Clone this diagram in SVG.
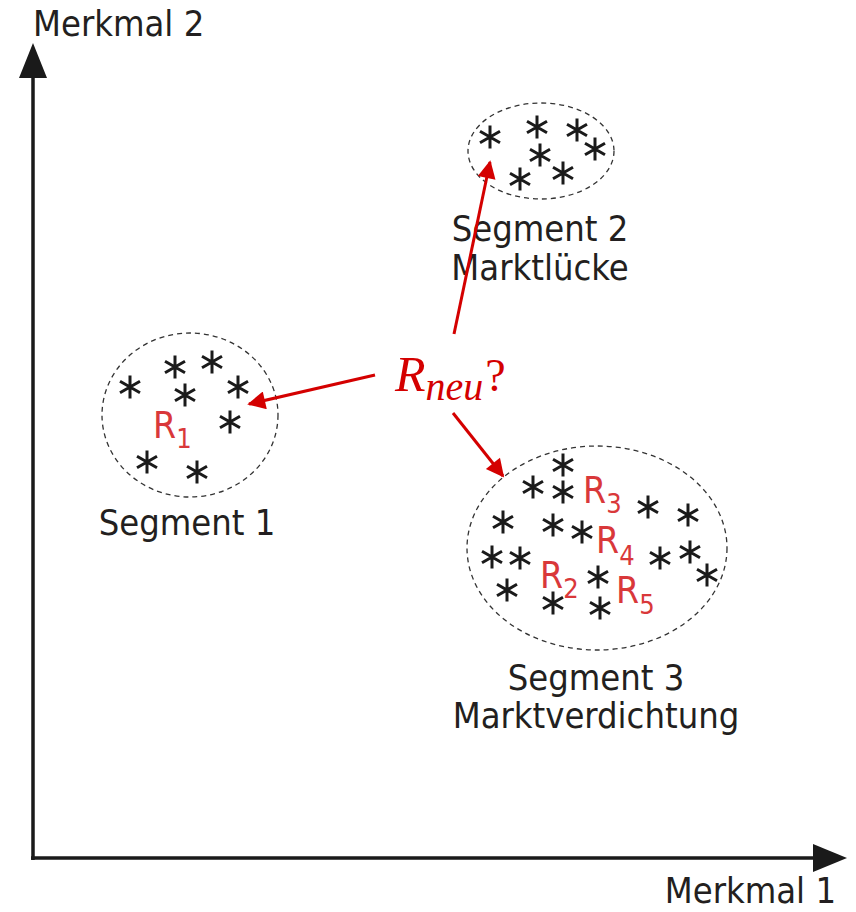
<svg xmlns="http://www.w3.org/2000/svg" xmlns:xlink="http://www.w3.org/1999/xlink" width="856" height="912" viewBox="0 0 856 912">
<style>
.lbl{font-family:"DejaVu Sans Condensed","DejaVu Sans",sans-serif;font-size:36px;fill:#231f20}
.seg{fill:none;stroke:#333;stroke-width:1.3;stroke-dasharray:5 4}
.star{stroke:#1a1a1a;stroke-width:3;fill:none}
.r{font-family:"DejaVu Sans Condensed","DejaVu Sans",sans-serif;font-size:37px;fill:#d9383a}
.rs{font-size:27px}
.arr{stroke:#d40000;stroke-width:3;fill:none}
.axis{stroke:#1a1a1a;stroke-width:3.5;fill:none}
</style>
<defs>
<g id="st" class="star"><path d="M0,-11.5V11.5M-10,-5.8L10,5.8M-10,5.8L10,-5.8"/></g>
<marker id="ah" viewBox="0 0 10 10" refX="9" refY="5" markerWidth="7" markerHeight="6" markerUnits="strokeWidth" orient="auto"><path d="M0,0L10,5L0,10Z" fill="#d40000"/></marker>
</defs>
<g id="axes">
<path class="axis" d="M33,860V70M31,858H822"/>
<path d="M33,43L47,78L19,78Z" fill="#1a1a1a"/>
<path d="M847,858L813,844L813,872Z" fill="#1a1a1a"/>
<text class="lbl" x="33" y="36">Merkmal 2</text>
<text class="lbl" x="836" y="903" text-anchor="end">Merkmal 1</text>
</g>
<g id="segment2">
<ellipse class="seg" cx="541" cy="151" rx="73" ry="48"/>
<use href="#st" x="490" y="137"/><use href="#st" x="537" y="127"/><use href="#st" x="577" y="130"/><use href="#st" x="595" y="149"/><use href="#st" x="540" y="155"/><use href="#st" x="520" y="179"/><use href="#st" x="563" y="173"/>
<text class="lbl" x="540" y="241" text-anchor="middle">Segment 2</text>
<text class="lbl" x="540" y="280" text-anchor="middle">Marktlücke</text>
</g>
<g id="segment1">
<ellipse class="seg" cx="190" cy="415" rx="88" ry="82"/>
<use href="#st" x="130" y="387"/><use href="#st" x="175" y="367"/><use href="#st" x="212" y="362"/><use href="#st" x="185" y="395"/><use href="#st" x="238" y="387"/><use href="#st" x="230" y="422"/><use href="#st" x="147" y="462"/><use href="#st" x="197" y="472"/>
<text class="r" x="153" y="438">R<tspan class="rs" dy="10">1</tspan></text>
<text class="lbl" x="187" y="535" text-anchor="middle">Segment 1</text>
</g>
<g id="segment3">
<ellipse class="seg" cx="597" cy="548" rx="130" ry="102"/>
<use href="#st" x="563" y="465"/><use href="#st" x="533" y="487"/><use href="#st" x="563" y="492"/><use href="#st" x="648" y="507"/><use href="#st" x="688" y="515"/><use href="#st" x="503" y="522"/><use href="#st" x="553" y="525"/><use href="#st" x="582" y="532"/><use href="#st" x="492" y="557"/><use href="#st" x="520" y="558"/><use href="#st" x="660" y="558"/><use href="#st" x="690" y="552"/><use href="#st" x="707" y="575"/><use href="#st" x="507" y="590"/><use href="#st" x="598" y="577"/><use href="#st" x="553" y="603"/><use href="#st" x="600" y="608"/>
<text class="r" x="583" y="503">R<tspan class="rs" dy="10">3</tspan></text>
<text class="r" x="596" y="553">R<tspan class="rs" dy="12">4</tspan></text>
<text class="r" x="540" y="588">R<tspan class="rs" dy="10">2</tspan></text>
<text class="r" x="616" y="603">R<tspan class="rs" dy="11">5</tspan></text>
<text class="lbl" x="596" y="690" text-anchor="middle">Segment 3</text>
<text class="lbl" x="596" y="728" text-anchor="middle">Marktverdichtung</text>
</g>
<g id="rneu">
<text x="395" y="391" font-family="'Liberation Serif',serif" font-style="italic" font-size="50" fill="#d40000">R<tspan font-size="40" dy="9">neu</tspan><tspan font-style="normal" font-size="46" dy="-9" dx="2">?</tspan></text>
</g>
<g id="connectors">
<path class="arr" marker-end="url(#ah)" d="M454,334L490,162"/>
<path class="arr" marker-end="url(#ah)" d="M375,375L249,404"/>
<path class="arr" marker-end="url(#ah)" d="M453,413L503,476"/>
</g>
</svg>
